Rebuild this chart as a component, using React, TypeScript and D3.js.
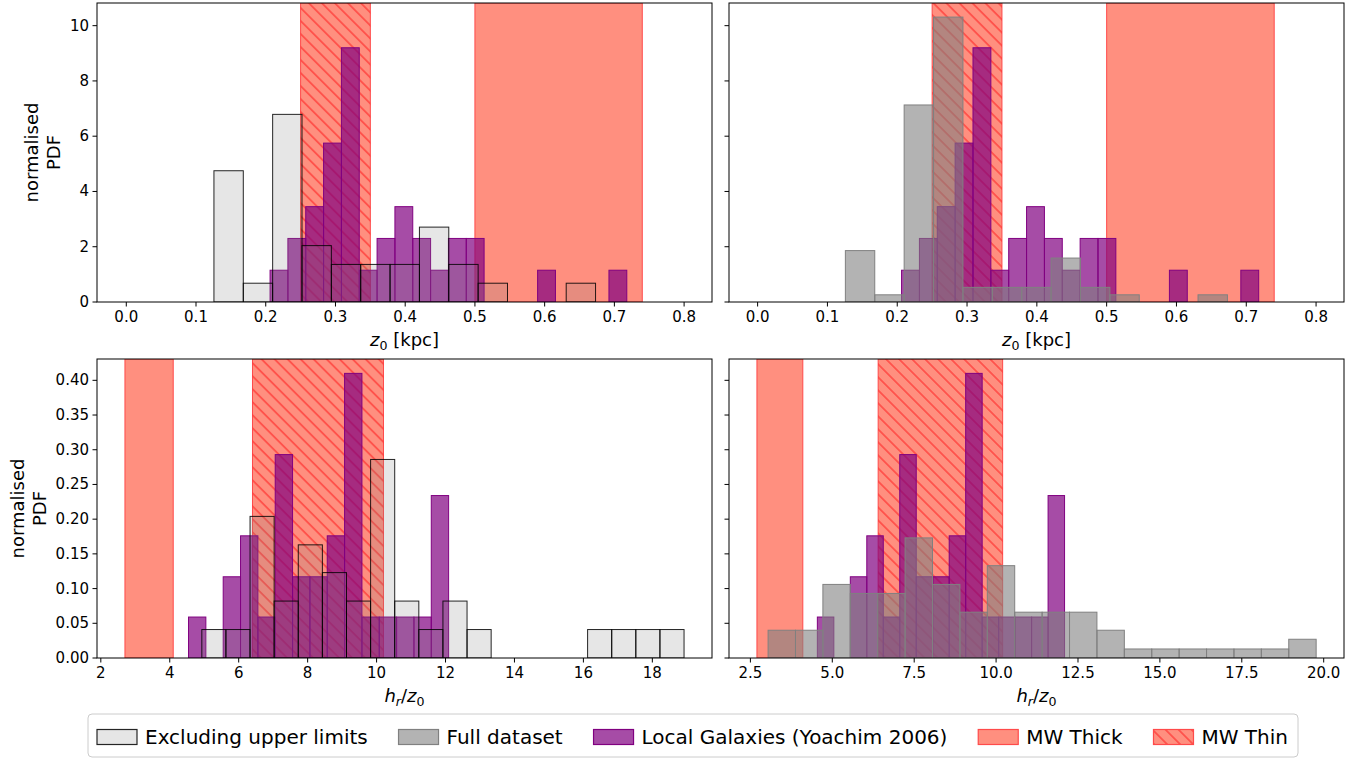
import React from "react";
import * as d3 from "d3";

// ---------- data ----------
// z0 histograms (normalised PDF)
const Z0_EXCL_RANGE = [0.1257, 0.673];
const Z0_EXCL = [4.75, 0.68, 6.79, 2.04, 1.36, 1.36, 1.36, 2.71, 1.36, 0.68, 0, 0, 0.68];
const Z0_FULL_RANGE = [0.1257, 0.673];
const Z0_FULL = [1.86, 0.26, 7.13, 10.31, 0.53, 0.53, 0.53, 1.59, 0.53, 0.26, 0, 0, 0.26];
const Z0_LOCAL_RANGE = [0.2062, 0.7178];
const Z0_LOCAL = [1.15, 2.3, 3.45, 5.75, 9.2, 1.15, 2.3, 3.45, 2.3, 1.15, 2.3, 2.3, 0, 0, 0, 1.15, 0, 0, 0, 1.15];

// hr/z0 histograms
const HRZ_EXCL_RANGE = [4.93, 18.92];
const HRZ_EXCL = [0.041, 0.041, 0.204, 0.082, 0.163, 0.123, 0.082, 0.286, 0.082, 0.041, 0.082, 0.041, 0, 0, 0, 0, 0.041, 0.041, 0.041, 0.041];
const HRZ_FULL_RANGE = [3.04, 19.77];
const HRZ_FULL = [0.04, 0.04, 0.106, 0.093, 0.093, 0.173, 0.106, 0.066, 0.133, 0.066, 0.066, 0.066, 0.04, 0.013, 0.013, 0.013, 0.013, 0.013, 0.013, 0.027];
const HRZ_LOCAL_RANGE = [4.544, 12.09];
const HRZ_LOCAL = [0.059, 0, 0.117, 0.176, 0.059, 0.293, 0.117, 0.117, 0.176, 0.41, 0.059, 0.059, 0.059, 0.059, 0.234];

// Milky Way bands
const Z0_THICK = [0.5, 0.74];
const Z0_THIN = [0.25, 0.35];
const HRZ_THICK = [2.7, 4.1];
const HRZ_THIN = [6.4, 10.2];

// ticks
const Z0_TICKS = [0, 0.1, 0.2, 0.3, 0.4, 0.5, 0.6, 0.7, 0.8];
const Z0_Y_TICKS = [0, 2, 4, 6, 8, 10];
const HRZ_TICKS_LEFT = [2, 4, 6, 8, 10, 12, 14, 16, 18];
const HRZ_TICKS_RIGHT = [2.5, 5, 7.5, 10, 12.5, 15, 17.5, 20];
const HRZ_Y_TICKS = [0, 0.05, 0.1, 0.15, 0.2, 0.25, 0.3, 0.35, 0.4];

const LEGEND_LABELS = [
  "Excluding upper limits",
  "Full dataset",
  "Local Galaxies (Yoachim 2006)",
  "MW Thick",
  "MW Thin",
];

// ---------- styles ----------
const FONT = "DejaVu Sans, sans-serif";
const BAND_FILL = "#ff8f7f";
const BAND_EDGE = "#ff4a4a";
const HATCH_COLOR = "#ff2a2a";
const STYLE_EXCL = { fill: "#808080", fillOpacity: 0.2, stroke: "#000", strokeOpacity: 0.85 };
const STYLE_FULL = { fill: "#808080", fillOpacity: 0.6, stroke: "#808080", strokeOpacity: 1 };
const STYLE_LOCAL = { fill: "#800080", fillOpacity: 0.7, stroke: "#800080", strokeOpacity: 1 };

type Panel = {
  id: string;
  left: number; right: number; top: number; bottom: number;
  xDomain: [number, number]; yDomain: [number, number];
  xTicks: number[]; xFmt: (v: number) => string;
  yTicks: number[]; yFmt: (v: number) => string; showYLabels: boolean; yLabelX: number;
  thick: number[]; thin: number[];
  local: { range: number[]; vals: number[] };
  other: { range: number[]; vals: number[]; style: any };
  xlabel: "z0" | "hrz";
};

function measure(text: string, size: number): number {
  try {
    const c = document.createElement("canvas").getContext("2d");
    if (c) {
      c.font = `${size}px "DejaVu Sans"`;
      return c.measureText(text).width;
    }
  } catch (e) {}
  return text.length * size * 0.58;
}

function Bars({ range, vals, style, sx, sy }: any) {
  const w = (range[1] - range[0]) / vals.length;
  return (
    <g>
      {vals.map((v: number, i: number) => {
        if (v <= 0) return null;
        const x0 = sx(range[0] + i * w);
        const x1 = sx(range[0] + (i + 1) * w);
        return (
          <rect
            key={i}
            x={x0}
            y={sy(v)}
            width={x1 - x0}
            height={sy(0) - sy(v)}
            fill={style.fill}
            fillOpacity={style.fillOpacity}
            stroke={style.stroke}
            strokeOpacity={style.strokeOpacity}
            strokeWidth={1}
          />
        );
      })}
    </g>
  );
}

function XLabel({ kind, x, y }: { kind: string; x: number; y: number }) {
  if (kind === "z0") {
    return (
      <text x={x} y={y} textAnchor="middle" fontFamily={FONT} fontSize={18} fill="#000">
        <tspan fontStyle="italic">z</tspan>
        <tspan fontSize={12.6} dy={4}>0</tspan>
        <tspan dy={-4}> [kpc]</tspan>
      </text>
    );
  }
  return (
    <text x={x} y={y} textAnchor="middle" fontFamily={FONT} fontSize={18} fill="#000">
      <tspan fontStyle="italic">h</tspan>
      <tspan fontSize={12.6} dy={4} fontStyle="italic">r</tspan>
      <tspan dy={-4}>/</tspan>
      <tspan fontStyle="italic">z</tspan>
      <tspan fontSize={12.6} dy={4}>0</tspan>
    </text>
  );
}

function PanelView({ p }: { p: Panel }) {
  const sx = d3.scaleLinear().domain(p.xDomain).range([p.left, p.right]);
  const sy = d3.scaleLinear().domain(p.yDomain).range([p.bottom, p.top]);
  const clipId = "clip-" + p.id;
  const bandRect = (b: number[], fill: string) => (
    <rect
      x={sx(b[0])}
      y={p.top}
      width={sx(b[1]) - sx(b[0])}
      height={p.bottom - p.top}
      fill={fill}
      stroke={BAND_EDGE}
      strokeWidth={1}
    />
  );
  return (
    <g>
      <defs>
        <clipPath id={clipId}>
          <rect x={p.left} y={p.top} width={p.right - p.left} height={p.bottom - p.top} />
        </clipPath>
      </defs>
      <g clipPath={`url(#${clipId})`}>
        {bandRect(p.thick, BAND_FILL)}
        {bandRect(p.thin, BAND_FILL)}
        <rect
          x={sx(p.thin[0])}
          y={p.top}
          width={sx(p.thin[1]) - sx(p.thin[0])}
          height={p.bottom - p.top}
          fill="url(#hatch)"
        />
        <Bars range={p.local.range} vals={p.local.vals} style={STYLE_LOCAL} sx={sx} sy={sy} />
        <Bars range={p.other.range} vals={p.other.vals} style={p.other.style} sx={sx} sy={sy} />
      </g>
      <rect
        x={p.left}
        y={p.top}
        width={p.right - p.left}
        height={p.bottom - p.top}
        fill="none"
        stroke="#000"
        strokeWidth={1}
      />
      {p.xTicks.map((t) => (
        <g key={"x" + t}>
          <line x1={sx(t)} x2={sx(t)} y1={p.bottom} y2={p.bottom + 4.5} stroke="#000" strokeWidth={1} />
          <text x={sx(t)} y={p.bottom + 20} textAnchor="middle" fontFamily={FONT} fontSize={15} fill="#000">
            {p.xFmt(t)}
          </text>
        </g>
      ))}
      {p.yTicks.map((t) => (
        <g key={"y" + t}>
          <line x1={p.left - 4.5} x2={p.left} y1={sy(t)} y2={sy(t)} stroke="#000" strokeWidth={1} />
          {p.showYLabels && (
            <text
              x={p.left - 8}
              y={sy(t)}
              textAnchor="end"
              dominantBaseline="central"
              fontFamily={FONT}
              fontSize={15}
              fill="#000"
            >
              {p.yFmt(t)}
            </text>
          )}
        </g>
      ))}
      <XLabel kind={p.xlabel} x={(p.left + p.right) / 2} y={p.bottom + 44} />
      {p.showYLabels && (
        <g transform={`translate(${p.yLabelX},${(p.top + p.bottom) / 2}) rotate(-90)`}>
          <text x={0} y={-11} textAnchor="middle" dominantBaseline="central" fontFamily={FONT} fontSize={18} fill="#000">
            normalised
          </text>
          <text x={0} y={11} textAnchor="middle" dominantBaseline="central" fontFamily={FONT} fontSize={18} fill="#000">
            PDF
          </text>
        </g>
      )}
    </g>
  );
}

export default function App() {
  const f1 = d3.format(".1f");
  const f0 = d3.format("d");
  const f2 = d3.format(".2f");
  const TOP = [3, 302];
  const BOT = [359, 658];
  const LEFT = [97, 712];
  const RIGHT = [729, 1344];

  const panels: Panel[] = [
    {
      id: "tl", left: LEFT[0], right: LEFT[1], top: TOP[0], bottom: TOP[1],
      xDomain: [-0.042, 0.84], yDomain: [0, 10.82],
      xTicks: Z0_TICKS, xFmt: f1, yTicks: Z0_Y_TICKS, yFmt: f0, showYLabels: true, yLabelX: 42.5,
      thick: Z0_THICK, thin: Z0_THIN,
      local: { range: Z0_LOCAL_RANGE, vals: Z0_LOCAL },
      other: { range: Z0_EXCL_RANGE, vals: Z0_EXCL, style: STYLE_EXCL },
      xlabel: "z0",
    },
    {
      id: "tr", left: RIGHT[0], right: RIGHT[1], top: TOP[0], bottom: TOP[1],
      xDomain: [-0.041, 0.84], yDomain: [0, 10.82],
      xTicks: Z0_TICKS, xFmt: f1, yTicks: Z0_Y_TICKS, yFmt: f0, showYLabels: false, yLabelX: 0,
      thick: Z0_THICK, thin: Z0_THIN,
      local: { range: Z0_LOCAL_RANGE, vals: Z0_LOCAL },
      other: { range: Z0_FULL_RANGE, vals: Z0_FULL, style: STYLE_FULL },
      xlabel: "z0",
    },
    {
      id: "bl", left: LEFT[0], right: LEFT[1], top: BOT[0], bottom: BOT[1],
      xDomain: [1.889, 19.731], yDomain: [0, 0.4307],
      xTicks: HRZ_TICKS_LEFT, xFmt: f0, yTicks: HRZ_Y_TICKS, yFmt: f2, showYLabels: true, yLabelX: 28.5,
      thick: HRZ_THICK, thin: HRZ_THIN,
      local: { range: HRZ_LOCAL_RANGE, vals: HRZ_LOCAL },
      other: { range: HRZ_EXCL_RANGE, vals: HRZ_EXCL, style: STYLE_EXCL },
      xlabel: "hrz",
    },
    {
      id: "br", left: RIGHT[0], right: RIGHT[1], top: BOT[0], bottom: BOT[1],
      xDomain: [1.847, 20.62], yDomain: [0, 0.4307],
      xTicks: HRZ_TICKS_RIGHT, xFmt: f1, yTicks: HRZ_Y_TICKS, yFmt: f2, showYLabels: false, yLabelX: 0,
      thick: HRZ_THICK, thin: HRZ_THIN,
      local: { range: HRZ_LOCAL_RANGE, vals: HRZ_LOCAL },
      other: { range: HRZ_FULL_RANGE, vals: HRZ_FULL, style: STYLE_FULL },
      xlabel: "hrz",
    },
  ];

  // legend layout: fit entries inside the frame
  const LEG_FONT = 20;
  const boxL = 88, boxR = 1298;
  const handleW = 40, textPad = 8;
  const innerL = boxL + 9, innerR = boxR - 10;
  const widths = LEGEND_LABELS.map((l) => measure(l, LEG_FONT));
  const used = widths.reduce((a, b) => a + b, 0) + LEGEND_LABELS.length * (handleW + textPad);
  const colSp = (innerR - innerL - used) / (LEGEND_LABELS.length - 1);
  const legendPatchX: number[] = [];
  let cur = innerL;
  widths.forEach((w) => {
    legendPatchX.push(cur);
    cur += handleW + textPad + w + colSp;
  });
  const legendStyles = [
    { ...STYLE_EXCL, hatch: false },
    { ...STYLE_FULL, hatch: false },
    { ...STYLE_LOCAL, hatch: false },
    { fill: BAND_FILL, fillOpacity: 1, stroke: BAND_EDGE, strokeOpacity: 1, hatch: false },
    { fill: BAND_FILL, fillOpacity: 1, stroke: BAND_EDGE, strokeOpacity: 1, hatch: true },
  ];
  const legY = 737;

  return (
    <svg
      width={1368}
      height={760}
      style={{ position: "absolute", left: 0, top: 0, display: "block", background: "#fff" }}
    >
      <defs>
        <pattern
          id="hatch"
          patternUnits="userSpaceOnUse"
          width={9.2}
          height={9.2}
          patternTransform="rotate(45)"
        >
          <line x1={-1} y1={4.6} x2={10.2} y2={4.6} stroke={HATCH_COLOR} strokeWidth={1.1} />
        </pattern>
      </defs>
      <rect x={0} y={0} width={1368} height={760} fill="#fff" />
      {panels.map((p) => (
        <PanelView key={p.id} p={p} />
      ))}
      <rect x={boxL} y={714} width={boxR - boxL} height={43} rx={4} fill="#fff" fillOpacity={0.8} stroke="#cccccc" strokeWidth={1} />
      {LEGEND_LABELS.map((lab, i) => {
        const s = legendStyles[i];
        const px = legendPatchX[i];
        return (
          <g key={lab}>
            <rect x={px} y={legY - 7.5} width={handleW} height={15} fill={s.fill} fillOpacity={s.fillOpacity} stroke="none" />
            {s.hatch && <rect x={px} y={legY - 7.5} width={handleW} height={15} fill="url(#hatch)" />}
            <rect x={px} y={legY - 7.5} width={handleW} height={15} fill="none" stroke={s.stroke} strokeOpacity={s.strokeOpacity} strokeWidth={1.2} />
            <text x={px + handleW + textPad} y={legY} dominantBaseline="central" fontFamily={FONT} fontSize={LEG_FONT} fill="#000">
              {lab}
            </text>
          </g>
        );
      })}
    </svg>
  );
}
